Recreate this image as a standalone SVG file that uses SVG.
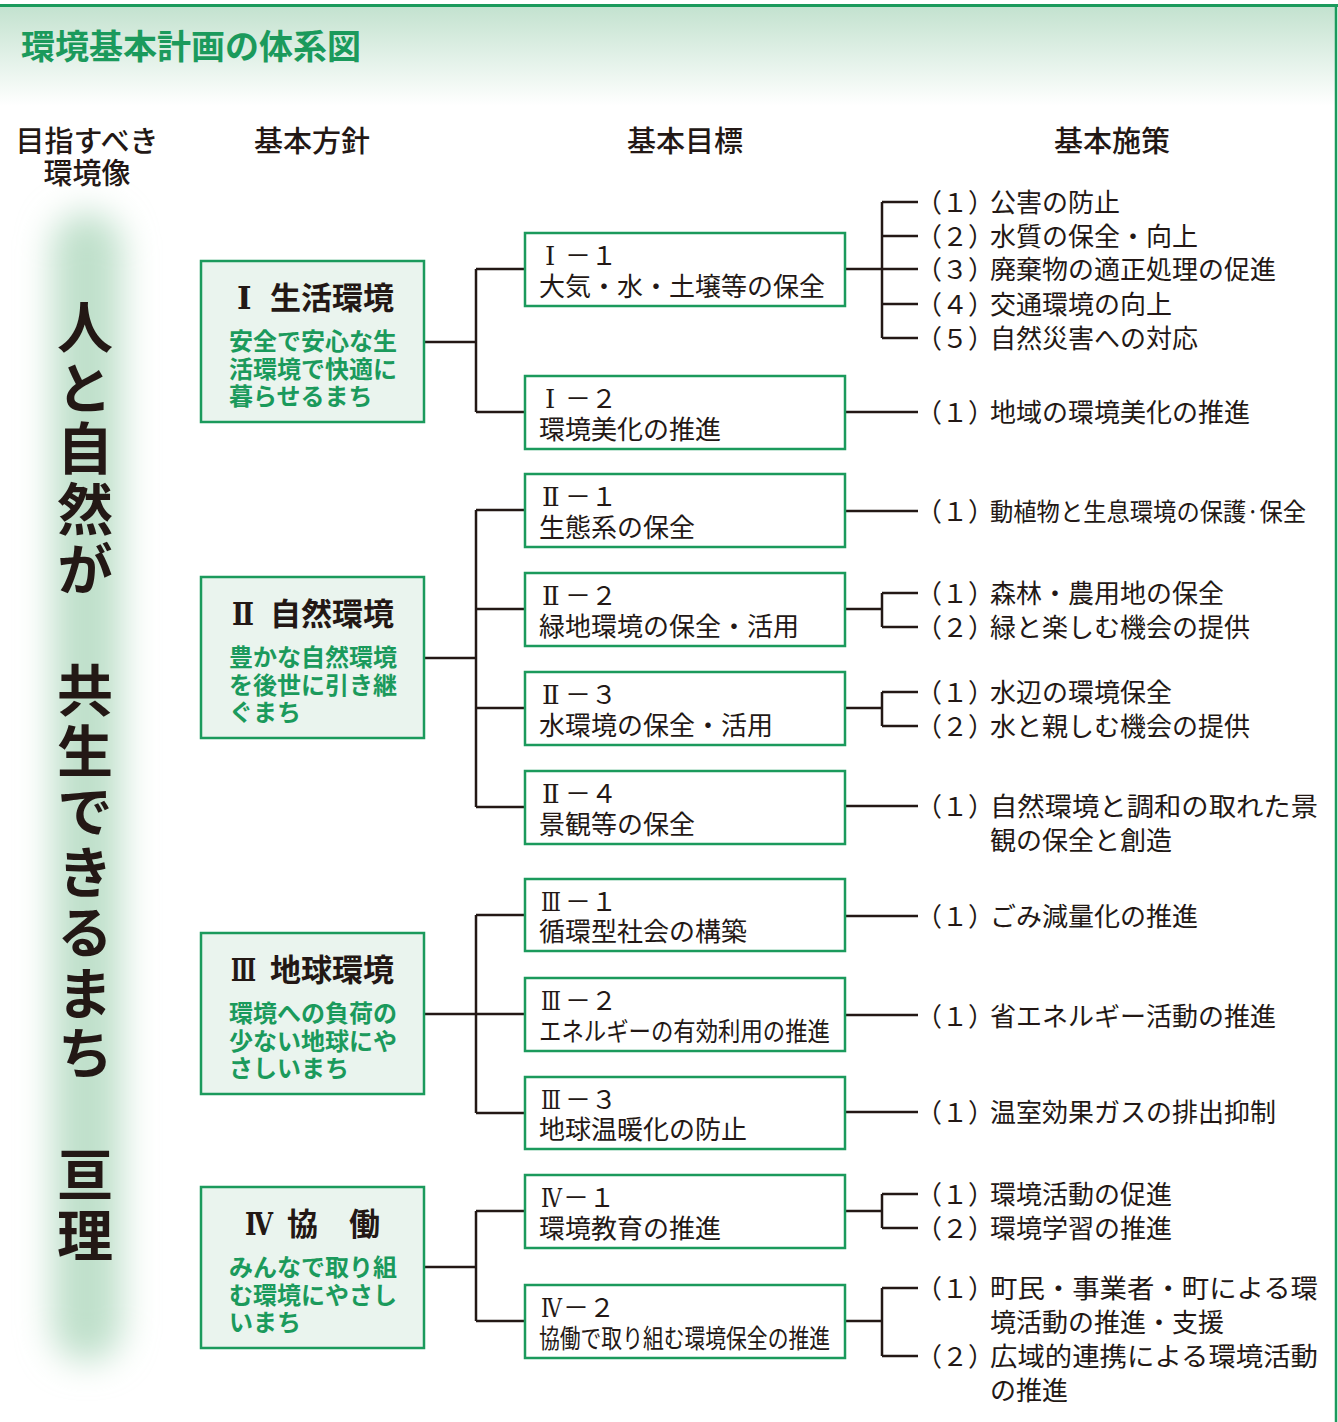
<svg xmlns="http://www.w3.org/2000/svg" width="1338" height="1422" viewBox="0 0 1338 1422">
<defs>
<linearGradient id="hdr" x1="0" y1="0" x2="0" y2="1">
<stop offset="0" stop-color="#c3e2cf"/>
<stop offset="1" stop-color="#ffffff"/>
</linearGradient>
<filter id="blur" x="-150%" y="-10%" width="400%" height="120%">
<feGaussianBlur stdDeviation="17"/>
</filter>
<style>
.bx1{fill:#eaf4ee;stroke:#1b9a5c;stroke-width:2.5}
.bx2{fill:#ffffff;stroke:#1b9a5c;stroke-width:2.5}
.ln{stroke:#231815;stroke-width:2.5;fill:none}
text{font-family:"Noto Sans CJK JP","Noto Sans CJK SC",sans-serif;fill:#231815}
.rn{font-family:"DejaVu Serif","Liberation Serif","Noto Sans CJK JP",serif}
.it{font-size:26px}
.lab{font-size:26px}
.ttl{font-size:31px;font-weight:bold}
.sub{font-size:24px;font-weight:bold;fill:#1b9a5c}
.hd{font-size:29px;font-weight:500}
.vt{font-size:56px;font-weight:bold;writing-mode:vertical-rl;letter-spacing:4.5px}
.title{font-size:34px;font-weight:bold;fill:#1b9a5c}
</style>
</defs>
<rect x="0" y="0" width="1338" height="1422" fill="#ffffff"/>
<rect x="0" y="6" width="1336" height="100" fill="url(#hdr)"/>
<line x1="0" y1="5.5" x2="1338" y2="5.5" stroke="#1b9a5c" stroke-width="3"/>
<line x1="1336" y1="5" x2="1336" y2="1422" stroke="#1b9a5c" stroke-width="2.5"/>
<text class="title" x="21" y="59">環境基本計画の体系図</text>

<g id="headers">
<text class="hd" x="87" y="152" text-anchor="middle">目指すべき</text>
<text class="hd" x="87" y="184" text-anchor="middle">環境像</text>
<text class="hd" x="312" y="152" text-anchor="middle">基本方針</text>
<text class="hd" x="685" y="152" text-anchor="middle">基本目標</text>
<text class="hd" x="1112" y="152" text-anchor="middle">基本施策</text>
</g>

<g id="vision">
<rect x="52" y="212" width="70" height="1150" rx="35" fill="#bfe0cb" filter="url(#blur)"/>
<text class="vt" x="85" y="299">人と自然が　共生できるまち　亘理</text>
</g>

<g id="connectors">
<path class="ln" d="M424,342 H476 M476,269 V412 M476,269 H525 M476,412 H525"/>
<path class="ln" d="M845,269 H882 M882,202 V338 M882,202 H918 M882,236 H918 M882,269 H918 M882,304 H918 M882,338 H918"/>
<path class="ln" d="M845,412 H918"/>
<path class="ln" d="M424,658 H476 M476,510 V807 M476,510 H525 M476,609 H525 M476,708 H525 M476,807 H525"/>
<path class="ln" d="M845,511 H918"/>
<path class="ln" d="M845,609 H882 M882,593 V627 M882,593 H918 M882,627 H918"/>
<path class="ln" d="M845,708 H882 M882,692 V726 M882,692 H918 M882,726 H918"/>
<path class="ln" d="M845,806 H918"/>
<path class="ln" d="M424,1014 H476 M476,915 V1113 M476,915 H525 M476,1014 H525 M476,1113 H525"/>
<path class="ln" d="M845,916 H918 M845,1015 H918 M845,1112 H918"/>
<path class="ln" d="M424,1267 H476 M476,1211 V1321 M476,1211 H525 M476,1321 H525"/>
<path class="ln" d="M845,1211 H882 M882,1194 V1228 M882,1194 H918 M882,1228 H918"/>
<path class="ln" d="M845,1321 H882 M882,1288 V1356 M882,1288 H918 M882,1356 H918"/>
</g>

<g id="policy1">
<rect class="bx1" x="201" y="261" width="223" height="161"/>
<text class="ttl" y="309"><tspan class="rn" x="237">Ⅰ</tspan><tspan x="270">生活環境</tspan></text>
<text class="sub" x="229" y="350">安全で安心な生</text>
<text class="sub" x="229" y="378">活環境で快適に</text>
<text class="sub" x="229" y="405">暮らせるまち</text>
</g>
<g id="policy2">
<rect class="bx1" x="201" y="577" width="223" height="161"/>
<text class="ttl" y="625"><tspan class="rn" x="232" textLength="22" lengthAdjust="spacingAndGlyphs">Ⅱ</tspan><tspan x="270">自然環境</tspan></text>
<text class="sub" x="229" y="666">豊かな自然環境</text>
<text class="sub" x="229" y="694">を後世に引き継</text>
<text class="sub" x="229" y="721">ぐまち</text>
</g>
<g id="policy3">
<rect class="bx1" x="201" y="933" width="223" height="161"/>
<text class="ttl" y="981"><tspan class="rn" x="231" textLength="25" lengthAdjust="spacingAndGlyphs">Ⅲ</tspan><tspan x="270">地球環境</tspan></text>
<text class="sub" x="229" y="1022">環境への負荷の</text>
<text class="sub" x="229" y="1050">少ない地球にや</text>
<text class="sub" x="229" y="1077">さしいまち</text>
</g>
<g id="policy4">
<rect class="bx1" x="201" y="1187" width="223" height="161"/>
<text class="ttl" y="1235"><tspan class="rn" x="245" textLength="28" lengthAdjust="spacingAndGlyphs">Ⅳ</tspan><tspan x="287">協　働</tspan></text>
<text class="sub" x="229" y="1276">みんなで取り組</text>
<text class="sub" x="229" y="1304">む環境にやさし</text>
<text class="sub" x="229" y="1331">いまち</text>
</g>

<g id="goal-1-1"><rect class="bx2" x="525" y="233" width="320" height="73"/>
<text class="lab" y="265"><tspan class="rn" x="545">Ⅰ</tspan><tspan x="565">－１</tspan></text><text class="lab" x="539" y="296">大気・水・土壌等の保全</text></g>
<g id="goal-1-2"><rect class="bx2" x="525" y="376" width="320" height="73"/>
<text class="lab" y="408"><tspan class="rn" x="545">Ⅰ</tspan><tspan x="565">－２</tspan></text><text class="lab" x="539" y="439">環境美化の推進</text></g>
<g id="goal-2-1"><rect class="bx2" x="525" y="474" width="320" height="73"/>
<text class="lab" y="506"><tspan class="rn" x="542">Ⅱ</tspan><tspan x="565">－１</tspan></text><text class="lab" x="539" y="537">生態系の保全</text></g>
<g id="goal-2-2"><rect class="bx2" x="525" y="573" width="320" height="73"/>
<text class="lab" y="605"><tspan class="rn" x="542">Ⅱ</tspan><tspan x="565">－２</tspan></text><text class="lab" x="539" y="636">緑地環境の保全・活用</text></g>
<g id="goal-2-3"><rect class="bx2" x="525" y="672" width="320" height="73"/>
<text class="lab" y="704"><tspan class="rn" x="542">Ⅱ</tspan><tspan x="565">－３</tspan></text><text class="lab" x="539" y="735">水環境の保全・活用</text></g>
<g id="goal-2-4"><rect class="bx2" x="525" y="771" width="320" height="73"/>
<text class="lab" y="803"><tspan class="rn" x="542">Ⅱ</tspan><tspan x="565">－４</tspan></text><text class="lab" x="539" y="834">景観等の保全</text></g>
<g id="goal-3-1"><rect class="bx2" x="525" y="879" width="320" height="72"/>
<text class="lab" y="911"><tspan class="rn" x="541" textLength="20" lengthAdjust="spacingAndGlyphs">Ⅲ</tspan><tspan x="565">－１</tspan></text><text class="lab" x="539" y="941">循環型社会の構築</text></g>
<g id="goal-3-2"><rect class="bx2" x="525" y="978" width="320" height="73"/>
<text class="lab" y="1010"><tspan class="rn" x="541" textLength="20" lengthAdjust="spacingAndGlyphs">Ⅲ</tspan><tspan x="565">－２</tspan></text><text class="lab" x="539" y="1041" textLength="291" lengthAdjust="spacingAndGlyphs">エネルギーの有効利用の推進</text></g>
<g id="goal-3-3"><rect class="bx2" x="525" y="1077" width="320" height="72"/>
<text class="lab" y="1109"><tspan class="rn" x="541" textLength="20" lengthAdjust="spacingAndGlyphs">Ⅲ</tspan><tspan x="565">－３</tspan></text><text class="lab" x="539" y="1139">地球温暖化の防止</text></g>
<g id="goal-4-1"><rect class="bx2" x="525" y="1175" width="320" height="73"/>
<text class="lab" y="1207"><tspan class="rn" x="541" textLength="21" lengthAdjust="spacingAndGlyphs">Ⅳ</tspan><tspan x="563">－１</tspan></text><text class="lab" x="539" y="1238">環境教育の推進</text></g>
<g id="goal-4-2"><rect class="bx2" x="525" y="1285" width="320" height="73"/>
<text class="lab" y="1317"><tspan class="rn" x="541" textLength="21" lengthAdjust="spacingAndGlyphs">Ⅳ</tspan><tspan x="563">－２</tspan></text><text class="lab" x="539" y="1348" textLength="291" lengthAdjust="spacingAndGlyphs">協働で取り組む環境保全の推進</text></g>

<g id="measures-1-1">
<text class="it" y="212"><tspan x="916">（１）</tspan><tspan x="990">公害の防止</tspan></text>
<text class="it" y="246"><tspan x="916">（２）</tspan><tspan x="990">水質の保全・向上</tspan></text>
<text class="it" y="279"><tspan x="916">（３）</tspan><tspan x="990">廃棄物の適正処理の促進</tspan></text>
<text class="it" y="314"><tspan x="916">（４）</tspan><tspan x="990">交通環境の向上</tspan></text>
<text class="it" y="348"><tspan x="916">（５）</tspan><tspan x="990">自然災害への対応</tspan></text>
</g>
<g id="measures-1-2">
<text class="it" y="422"><tspan x="916">（１）</tspan><tspan x="990">地域の環境美化の推進</tspan></text>
</g>
<g id="measures-2-1">
<text class="it" y="521"><tspan x="916">（１）</tspan><tspan x="990" font-size="25" textLength="316" lengthAdjust="spacingAndGlyphs">動植物と生息環境の保護·保全</tspan></text>
</g>
<g id="measures-2-2">
<text class="it" y="603"><tspan x="916">（１）</tspan><tspan x="990">森林・農用地の保全</tspan></text>
<text class="it" y="637"><tspan x="916">（２）</tspan><tspan x="990">緑と楽しむ機会の提供</tspan></text>
</g>
<g id="measures-2-3">
<text class="it" y="702"><tspan x="916">（１）</tspan><tspan x="990">水辺の環境保全</tspan></text>
<text class="it" y="736"><tspan x="916">（２）</tspan><tspan x="990">水と親しむ機会の提供</tspan></text>
</g>
<g id="measures-2-4">
<text class="it" y="816"><tspan x="916">（１）</tspan><tspan x="990" textLength="328" lengthAdjust="spacingAndGlyphs">自然環境と調和の取れた景</tspan></text>
<text class="it" x="990" y="850">観の保全と創造</text>
</g>
<g id="measures-3-1">
<text class="it" y="926"><tspan x="916">（１）</tspan><tspan x="990">ごみ減量化の推進</tspan></text>
</g>
<g id="measures-3-2">
<text class="it" y="1026"><tspan x="916">（１）</tspan><tspan x="990">省エネルギー活動の推進</tspan></text>
</g>
<g id="measures-3-3">
<text class="it" y="1122"><tspan x="916">（１）</tspan><tspan x="990">温室効果ガスの排出抑制</tspan></text>
</g>
<g id="measures-4-1">
<text class="it" y="1204"><tspan x="916">（１）</tspan><tspan x="990">環境活動の促進</tspan></text>
<text class="it" y="1238"><tspan x="916">（２）</tspan><tspan x="990">環境学習の推進</tspan></text>
</g>
<g id="measures-4-2">
<text class="it" y="1298"><tspan x="916">（１）</tspan><tspan x="990" textLength="328" lengthAdjust="spacingAndGlyphs">町民・事業者・町による環</tspan></text>
<text class="it" x="990" y="1332">境活動の推進・支援</text>
<text class="it" y="1366"><tspan x="916">（２）</tspan><tspan x="990" textLength="328" lengthAdjust="spacingAndGlyphs">広域的連携による環境活動</tspan></text>
<text class="it" x="990" y="1400">の推進</text>
</g>
</svg>
